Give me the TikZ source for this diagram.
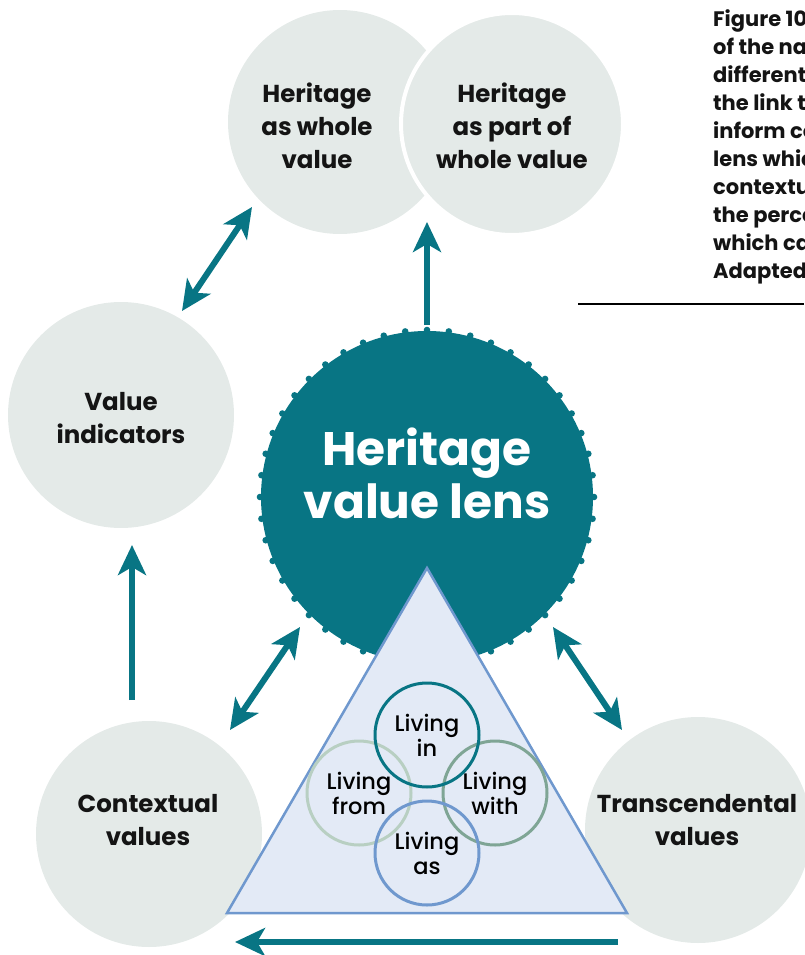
\documentclass[tikz,border=0pt]{standalone}
\usepackage{fontspec}
\setmainfont{Poppins}
\newfontfamily\livfont{Poppins}[UprightFont=* Medium]
\usetikzlibrary{arrows.meta}
\definecolor{lensteal}{RGB}{8,117,132}
\definecolor{bubgray}{RGB}{228,234,232}
\definecolor{trifill}{RGB}{227,234,246}
\definecolor{triline}{RGB}{111,152,206}
\definecolor{livfrom}{RGB}{184,207,194}
\definecolor{livwith}{RGB}{127,165,149}
\begin{document}
\begin{tikzpicture}[x=1pt,y=-1pt,
	bub/.style={circle,fill=bubgray,minimum size=226pt,inner sep=0pt,outer sep=0pt},
	bubtxt/.style={align=center,text=black!92,font=\bfseries\fontsize{24.5}{33}\selectfont},
	liv/.style={circle,draw=#1,line width=3pt,minimum size=104pt,inner sep=0pt,align=center,font=\livfont\fontsize{22.5}{25}\selectfont},
	arrow/.style={draw=lensteal,line width=6pt,-{Stealth[length=30pt,width=28pt,inset=8pt]}},
	twoway/.style={draw=lensteal,line width=6pt,{Stealth[length=30pt,width=28pt,inset=8pt]}-{Stealth[length=30pt,width=28pt,inset=8pt]}}]
	\useasboundingbox (0,0) rectangle (804,955);
	\node[bub,minimum size=224pt] (whole) at (340,122) {};
	\node[bub,draw=white,line width=4pt,minimum size=222pt] (part) at (512,124) {};
	\node[bubtxt] (wholetxt) at (317,126) {Heritage\\as whole\\value};
	\node[bubtxt] (parttxt) at (512,126) {Heritage\\as part of\\whole value};
	\node[bub] (ind) at (121,415) {};
	\node[bubtxt] (indtxt) at (121,418) {Value\\indicators};
	\node[bub] (ctx) at (149,834) {};
	\node[bubtxt] (ctxtxt) at (148,820) {Contextual\\values};
	\node[bub] (trans) at (698,830) {};
	\node[bubtxt] (transtxt) at (697,820) {Transcendental\\values};
	\node[circle,fill=lensteal,minimum size=332pt,inner sep=0pt] (lens) at (427,497) {};
	\foreach \a in {0,7.5,...,352.5}
	\fill[lensteal] (lens.center) ++(\a:167) circle (3.3);
	\node[align=center,text=white,font=\bfseries\fontsize{47}{53}\selectfont] (lenstxt) at (427,473) {Heritage\\value lens};
	\coordinate (apex) at (427,568);
	\coordinate (baseL) at (227,913);
	\coordinate (baseR) at (627,913);
	\filldraw[fill=trifill,draw=triline,line width=2.5pt] (apex)--(baseL)--(baseR)--cycle;
	\foreach \nm/\cx/\cy/\cl/\lb in {from/359/793/livfrom/{Living\\from},with/495/793/livwith/{Living\\with},in/427/735/lensteal/{Living\\in},as/427/853/triline/{Living\\as}}
	\node[liv=\cl] (\nm) at (\cx,\cy) {\lb};
	\foreach \n/\px/\py in {p1/182/311,p2/252/207,p3/427/325,p4/427/222,p5/132/700,p6/132/545,p7/300/627,p8/230/730,p9/553/627,p10/622/730,p11/618/942,p12/235/942}
	\coordinate (\n) at (\px,\py);
	\draw[twoway] (p1)--(p2);
	\draw[arrow] (p3)--(p4);
	\draw[arrow] (p5)--(p6);
	\draw[twoway] (p7)--(p8);
	\draw[twoway] (p9)--(p10);
	\draw[arrow] (p11)--(p12);
	\node[anchor=north west,inner sep=0pt,align=left,text=black!92,font=\bfseries\fontsize{21}{28}\selectfont] (caption) at (713,9) {Figure 10\\of the na\\different\\the link t\\inform co\\lens whic\\contextu\\the perce\\which ca\\Adapted};
	\draw[line width=1.3pt] (578,304)--(804,304);
\end{tikzpicture}
\end{document}
